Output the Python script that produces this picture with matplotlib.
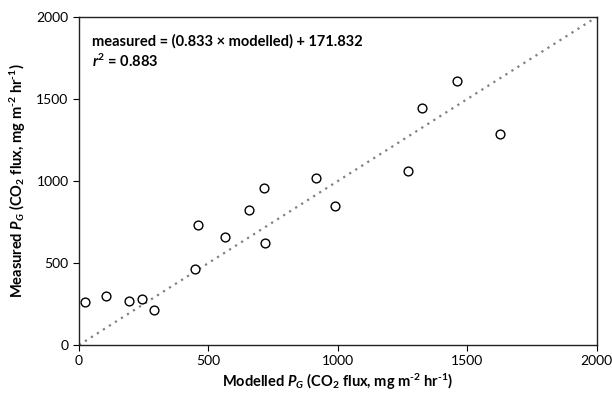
"""Scatter of measured vs modelled gross photosynthesis with a 1:1 line."""

import matplotlib
matplotlib.use("Agg")
import matplotlib.pyplot as plt
import numpy as np

# Modelled and measured P_G (CO2 flux, mg m-2 hr-1)
modelled = [23, 106, 195, 242, 289, 449, 459, 564, 657, 716, 718,
            917, 989, 1270, 1326, 1460, 1627]
measured = [263, 297, 267, 283, 212, 461, 735, 660, 822, 957, 621,
            1018, 850, 1061, 1443, 1611, 1289]
one_to_one = [0, 2000]
ticks = [0, 500, 1000, 1500, 2000]

plt.rcParams["font.family"] = ["Lato", "DejaVu Sans"]
plt.rcParams["mathtext.fontset"] = "custom"
plt.rcParams["mathtext.rm"] = "Lato:bold"
plt.rcParams["mathtext.it"] = "Lato:bold:italic"
plt.rcParams["mathtext.bf"] = "Lato:bold"

fig = plt.figure(figsize=(6.12, 4.05), dpi=100)
ax = fig.add_axes([0.129, 0.148, 0.846, 0.81])

ax.plot(one_to_one, one_to_one, linestyle=(0, (1, 2.2)), color="#808080",
        linewidth=1.6, zorder=1)
ax.scatter(modelled, measured, s=40, facecolors="white", edgecolors="black",
           linewidths=1.0, zorder=2)

ax.set_xlim(0, 2000)
ax.set_ylim(0, 2000)
ax.set_xticks(ticks)
ax.set_yticks(ticks)
ax.tick_params(direction="out", length=4, width=0.8, labelsize=10,
               colors="black")
for spine in ax.spines.values():
    spine.set_linewidth(1.0)
    spine.set_color("#222222")

units = r"(CO$_2$ flux, mg m$^{\text{-}2}$ hr$^{\text{-}1}$)"
ax.set_xlabel(r"Modelled $P_G$ " + units, fontsize=10.5, fontweight="bold",
              labelpad=3)
ax.set_ylabel(r"Measured $P_G$ " + units, fontsize=10.5, fontweight="bold",
              labelpad=6)

ax.text(0.025, 0.925, "measured = (0.833 × modelled) + 171.832",
        transform=ax.transAxes, fontsize=10.5, fontweight="bold",
        va="center", ha="left")
ax.text(0.025, 0.865, r"$r^2$ = 0.883", transform=ax.transAxes,
        fontsize=10.5, fontweight="bold", va="center", ha="left")

fig.savefig("out.png", dpi=100)
